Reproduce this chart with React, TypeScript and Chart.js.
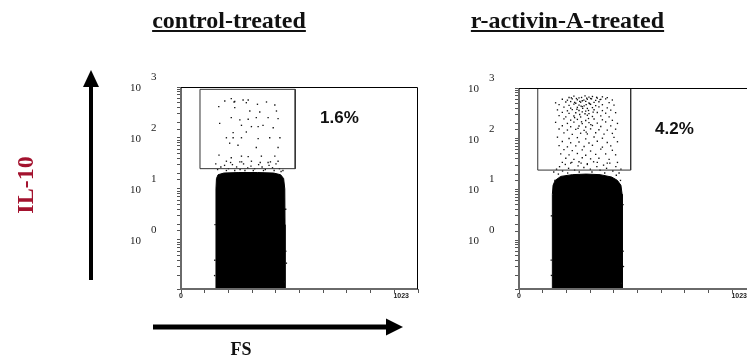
import React, { useEffect, useRef } from 'react';
import { Chart, registerables } from 'chart.js';

Chart.register(...registerables);

type Pt = [number, number];

// ---------- text / ticks ----------
const panelTitles = ['control-treated', 'r-activin-A-treated'];
const gatePercents = ['1.6%', '4.2%'];
const yAxisTitle = 'IL-10';
const xAxisTitle = 'FS';
const xTickValues = [0, 102.3, 204.6, 306.9, 409.2, 511.5, 613.8, 716.1, 818.4, 920.7, 1023];
const xTickLabels = ['0', '1023'];
const yDecadeValues = [1, 10, 100, 1000];
const yExponentLabels = ['0', '1', '2', '3'];

// ---------- control-treated panel ----------
const controlGate: Pt[] = [[82, 25], [82, 900], [493, 900], [493, 25], [82, 25]];
const controlBlob: Pt[] = [
  [151, 0.11], [151, 1], [151, 10], [153, 16], [160, 19], [185, 20.5], [250, 21], [330, 21],
  [400, 20.5], [430, 19], [443, 16], [448, 10], [449, 2], [449, 0.11],
];
const controlGateDots: Pt[] = [
  [189, 531], [217, 590], [229, 508], [232, 520], [268, 556], [290, 556], [282, 492], [330, 458],
  [369, 508], [405, 444], [163, 411], [232, 393], [297, 338], [340, 323], [412, 338], [217, 250],
  [254, 226], [290, 233], [325, 250], [376, 250], [419, 239], [167, 194], [261, 177], [304, 167],
  [333, 167], [354, 177], [398, 159], [225, 127], [282, 131], [196, 101], [225, 101], [261, 101],
  [333, 97], [383, 101], [427, 101], [210, 79], [246, 72], [325, 65], [419, 65], [164, 46],
  [217, 41], [261, 44], [290, 43], [347, 44], [405, 44], [196, 35], [254, 34], [304, 35],
  [376, 33], [419, 35],
];
const controlEdgeDots: Pt[] = [
  [150, 31], [172, 27], [188, 29], [205, 25], [222, 30], [240, 27], [255, 24], [270, 31],
  [288, 26], [302, 28], [318, 25], [335, 30], [350, 27], [364, 24], [380, 29], [395, 26],
  [410, 31], [425, 25], [440, 23], [158, 24], [196, 23], [232, 23], [276, 23], [312, 23],
  [356, 23], [402, 23], [432, 22], [214, 33], [262, 34], [342, 33], [386, 34], [146, 0.4],
  [145, 0.2], [452, 0.6], [455, 0.35], [448, 0.15], [147, 2], [452, 4],
];

// ---------- r-activin-A-treated panel ----------
const activinGate: Pt[] = [[81, 24], [81, 1000], [482, 1000], [482, 24], [81, 24]];
const activinBlob: Pt[] = [
  [144, 0.108], [144, 1], [144, 8], [147, 12], [156, 15], [180, 18], [230, 19.5], [290, 20],
  [350, 19.5], [400, 17.5], [425, 15], [440, 12], [445, 8], [446, 2], [446, 0.108],
];
const activinGateDots: Pt[] = [
  [216, 650], [237, 690], [259, 640], [285, 700], [302, 660], [317, 680], [338, 630], [360, 670], [381, 645],
  [187, 600], [209, 575], [230, 610], [252, 585], [273, 560], [295, 600], [309, 620], [331, 570], [353, 595], [374, 610], [403, 580],
  [158, 510], [202, 530], [223, 540], [245, 500], [266, 525], [288, 545], [302, 505], [324, 520], [345, 535], [389, 515],
  [173, 470], [216, 455], [237, 480], [259, 460], [281, 445], [309, 475], [331, 450], [360, 468], [410, 458],
  [194, 420], [223, 400], [252, 415], [273, 430], [295, 395], [317, 410], [345, 425], [381, 405],
  [166, 370], [209, 355], [230, 375], [259, 360], [288, 350], [324, 372], [360, 358], [396, 366],
  [187, 330], [216, 315], [245, 325], [273, 338], [302, 312], [338, 328], [374, 318], [417, 326],
  [173, 285], [202, 270], [237, 280], [266, 268], [295, 290], [317, 274], [353, 282], [389, 270],
  [194, 245], [223, 232], [252, 240], [288, 228], [324, 244], [360, 236], [403, 230],
  [158, 210], [209, 200], [237, 212], [273, 198], [302, 208], [338, 202], [374, 214], [425, 200],
  [187, 180], [223, 172], [259, 178], [288, 170], [317, 182], [353, 174], [396, 179],
  [173, 155], [209, 148], [245, 153], [281, 146], [309, 156], [345, 150], [381, 147], [417, 154],
  [194, 130], [230, 122], [266, 128], [295, 124], [331, 131], [367, 123], [403, 127],
  [166, 107], [216, 101], [252, 105], [288, 99], [324, 108], [360, 102], [410, 106],
  [187, 88], [223, 83], [259, 86], [302, 82], [338, 89], [381, 84], [425, 87],
  [173, 73], [209, 69], [245, 72], [281, 70], [317, 74], [360, 68], [396, 72],
  [194, 61], [230, 58], [273, 60], [309, 57], [353, 62], [403, 59],
  [180, 50], [216, 48], [252, 51], [288, 47], [331, 49], [374, 50], [417, 48],
  [202, 41], [237, 39], [273, 42], [309, 40], [345, 41], [389, 39],
  [187, 34], [223, 33], [259, 35], [295, 32], [338, 34], [381, 33], [425, 34],
  [226, 640], [248, 620], [270, 650], [292, 630], [313, 610], [335, 655], [350, 590], [280, 575],
  [262, 545], [240, 520], [305, 490], [290, 470], [268, 440], [250, 380], [275, 395], [300, 360],
  [320, 335], [262, 300], [285, 310], [240, 260], [300, 250], [270, 215], [310, 190], [255, 160], [290, 135],
];
const activinEdgeDots: Pt[] = [
  [150, 22], [162, 25], [175, 28], [188, 23], [200, 31], [214, 26], [228, 34], [240, 24],
  [255, 29], [268, 33], [280, 27], [295, 31], [308, 25], [322, 35], [336, 28], [350, 24],
  [365, 30], [378, 26], [392, 33], [405, 23], [418, 28], [432, 21], [440, 25], [170, 20],
  [210, 21], [260, 22], [315, 22], [370, 21], [420, 19], [155, 15], [438, 15], [139, 0.4],
  [140, 0.2], [449, 0.6], [451, 0.3], [442, 0.14], [140, 3], [449, 5],
];

const toXY = (pts: Pt[]) => pts.map(([x, y]) => ({ x, y }));

type PanelProps = {
  left: number; top: number; width: number; height: number;
  padRight: number; padTop: number; yMin: number;
  gate: Pt[]; blob: Pt[]; dots: Pt[];
};

function Panel(p: PanelProps) {
  const ref = useRef<HTMLCanvasElement | null>(null);
  useEffect(() => {
    if (!ref.current) return;
    const framePlugin = {
      id: 'frameAndLabels',
      afterDraw(chart: any) {
        const { ctx, chartArea: ca, scales } = chart;
        const xs = scales.x, ys = scales.y;
        ctx.save();
        ctx.strokeStyle = '#6a6a6a';
        ctx.lineWidth = 2;
        ctx.beginPath();
        ctx.moveTo(ca.left, ca.top);
        ctx.lineTo(ca.left, ca.bottom);
        ctx.lineTo(ca.right, ca.bottom);
        ctx.stroke();
        ctx.strokeStyle = '#000';
        ctx.lineWidth = 1;
        ctx.beginPath();
        ctx.moveTo(ca.left, ca.top + 0.5);
        ctx.lineTo(ca.right - 0.5, ca.top + 0.5);
        ctx.lineTo(ca.right - 0.5, ca.bottom);
        ctx.stroke();
        ctx.fillStyle = '#222';
        ctx.font = '11px "Liberation Serif", serif';
        ctx.textBaseline = 'middle';
        yDecadeValues.forEach((v, i) => {
          const py = ys.getPixelForValue(v);
          ctx.textAlign = 'right';
          ctx.fillText('10', ca.left - 40, py + 1);
          ctx.textAlign = 'left';
          ctx.fillText(yExponentLabels[i], ca.left - 30, py - 10);
        });
        ctx.font = 'bold 7px "Liberation Sans", sans-serif';
        ctx.textAlign = 'center';
        ctx.fillText(xTickLabels[0], xs.getPixelForValue(xTickValues[0]), ca.bottom + 7);
        ctx.textAlign = 'right';
        ctx.fillText(xTickLabels[1], xs.getPixelForValue(xTickValues[xTickValues.length - 1]) - 9, ca.bottom + 7);
        ctx.restore();
      },
    };
    const chart = new Chart(ref.current, {
      type: 'scatter',
      data: {
        datasets: [
          {
            type: 'line', data: toXY(p.gate), borderColor: '#333', borderWidth: 1,
            pointRadius: 0, fill: false, tension: 0,
          } as any,
          {
            type: 'scatter', data: toXY(p.dots), pointStyle: 'rect', pointRadius: 0.95,
            backgroundColor: '#111', borderWidth: 0,
          } as any,
          {
            type: 'line', data: toXY(p.blob), borderColor: '#000', borderWidth: 1,
            backgroundColor: '#000', pointRadius: 0, fill: 'start', tension: 0,
          } as any,
        ],
      },
      options: {
        animation: false,
        responsive: false,
        devicePixelRatio: 1,
        events: [],
        layout: { padding: { left: 0, right: p.padRight, top: p.padTop, bottom: 0 } },
        plugins: { legend: { display: false }, tooltip: { enabled: false } },
        scales: {
          x: {
            type: 'linear', min: 0, max: 1023,
            afterBuildTicks: (s: any) => { s.ticks = xTickValues.map((v) => ({ value: v })); },
            afterFit: (s: any) => { s.height = 16; },
            grid: { drawOnChartArea: false, drawTicks: true, tickLength: 4, color: '#555' },
            border: { display: false },
            ticks: { callback: () => '', autoSkip: false, padding: 0 },
          },
          y: {
            type: 'logarithmic', min: p.yMin, max: 1000,
            afterFit: (s: any) => { s.width = 61; },
            grid: { drawOnChartArea: false, drawTicks: true, tickLength: 4, color: '#555' },
            border: { display: false },
            ticks: { callback: () => '', autoSkip: false, padding: 0 },
          },
        } as any,
      },
      plugins: [framePlugin],
    } as any);
    return () => chart.destroy();
  }, []);
  return (
    <canvas
      ref={ref}
      width={p.width}
      height={p.height}
      style={{ position: 'absolute', left: p.left, top: p.top, width: p.width, height: p.height }}
    />
  );
}

const serif = '"Liberation Serif", "Times New Roman", serif';
const sans = '"Liberation Sans", Arial, sans-serif';

export default function App() {
  return (
    <div style={{ position: 'absolute', left: 0, top: 0, width: 747, height: 357, overflow: 'hidden', background: '#fff' }}>
      <Panel left={120} top={60} width={310} height={245} padRight={12} padTop={27} yMin={0.109}
        gate={controlGate} blob={controlBlob} dots={[...controlGateDots, ...controlEdgeDots]} />
      <Panel left={458} top={60} width={311} height={245} padRight={13} padTop={28} yMin={0.108}
        gate={activinGate} blob={activinBlob} dots={[...activinGateDots, ...activinEdgeDots]} />

      <svg width={747} height={357} style={{ position: 'absolute', left: 0, top: 0, pointerEvents: 'none' }}>
        <line x1={91} y1={280} x2={91} y2={84} stroke="#000" strokeWidth={4} />
        <polygon points="91,70 83,87 99,87" fill="#000" />
        <line x1={153} y1={327} x2={390} y2={327} stroke="#000" strokeWidth={5} />
        <polygon points="403,327 386,318.5 386,335.5" fill="#000" />
      </svg>

      {panelTitles.map((t, i) => (
        <div key={t} style={{
          position: 'absolute', left: (i === 0 ? 229 : 567.5) - 150, top: 8, width: 300,
          textAlign: 'center', font: `bold 24px/24px ${serif}`, color: '#111',
          textDecoration: 'underline', textDecorationThickness: '2px', textUnderlineOffset: '2px',
          whiteSpace: 'nowrap',
        }}>{t}</div>
      ))}

      <div style={{
        position: 'absolute', left: 25, top: 185, transform: 'translate(-50%, -50%) rotate(-90deg)',
        font: `bold 24px/24px ${serif}`, color: '#a3122e', whiteSpace: 'nowrap',
      }}>{yAxisTitle}</div>

      <div style={{
        position: 'absolute', left: 241 - 50, top: 340, width: 100, textAlign: 'center',
        font: `bold 18px/18px ${serif}`, color: '#111',
      }}>{xAxisTitle}</div>

      <div style={{ position: 'absolute', left: 320, top: 109, font: `bold 17px/17px ${sans}`, color: '#111' }}>{gatePercents[0]}</div>
      <div style={{ position: 'absolute', left: 655, top: 119.6, font: `bold 17px/17px ${sans}`, color: '#111' }}>{gatePercents[1]}</div>
    </div>
  );
}
